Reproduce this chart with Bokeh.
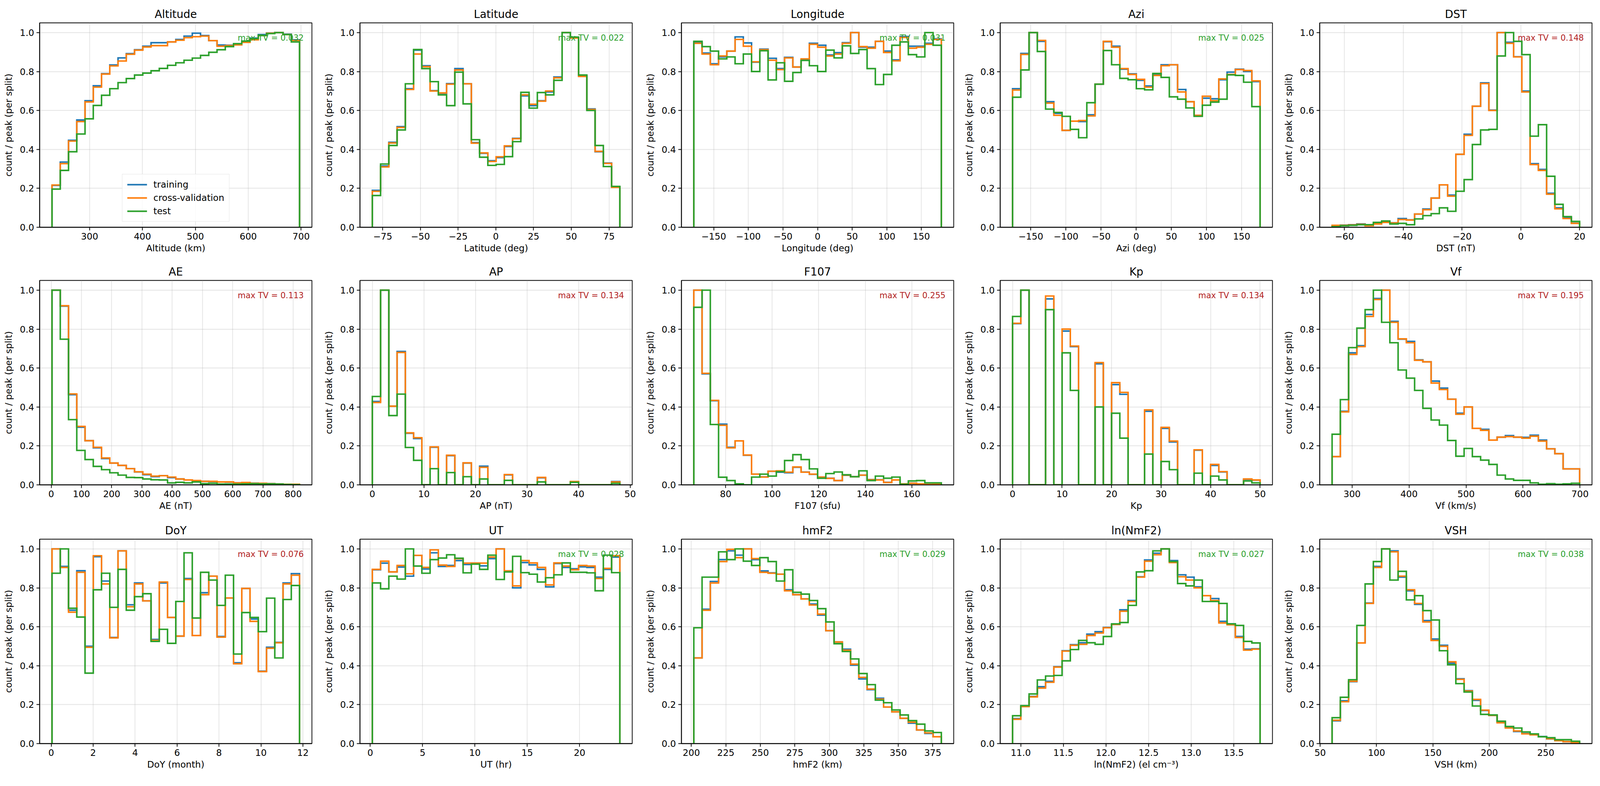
import numpy as np
from bokeh.plotting import figure
from bokeh.layouts import column, row
from bokeh.models import (Range1d, FixedTicker, CustomJSTickFormatter, Label,
                          Legend, LegendItem)
from bokeh.embed import file_html
from bokeh.resources import INLINE

FONT = "DejaVu Sans"
C_TRAIN, C_CV, C_TEST = "#1f77b4", "#ff7f0e", "#2ca02c"
TV_GOOD, TV_BAD = "#2ca02c", "#b22222"
SERIES = ["training", "cross-validation", "test"]

# ---------------- data (normalised counts per split, 30 bins each) ----------------
alt_range = (229.0, 697.0)
alt_train = [0.215,0.335,0.447,0.551,0.650,0.727,0.789,0.834,0.870,0.892,0.912,0.930,0.948,0.948,0.952,0.965,0.982,0.997,0.985,0.959,0.936,0.935,0.942,0.955,0.972,0.990,0.998,1.000,0.992,0.963]
alt_cv    = [0.217,0.327,0.443,0.543,0.644,0.720,0.787,0.829,0.854,0.889,0.910,0.926,0.933,0.933,0.952,0.961,0.974,0.979,0.982,0.959,0.930,0.933,0.937,0.950,0.963,0.985,0.997,1.000,0.990,0.960]
alt_test  = [0.196,0.292,0.388,0.479,0.557,0.626,0.678,0.712,0.743,0.764,0.782,0.792,0.804,0.816,0.832,0.845,0.858,0.869,0.883,0.899,0.912,0.928,0.943,0.956,0.969,0.985,0.995,1.000,0.990,0.952]

lat_range = (-81.9, 82.2)
lat_train = [0.190,0.315,0.437,0.517,0.712,0.910,0.830,0.702,0.688,0.738,0.815,0.737,0.435,0.380,0.342,0.358,0.415,0.457,0.675,0.625,0.650,0.695,0.772,1.000,0.975,0.778,0.608,0.388,0.330,0.207]
lat_cv    = [0.185,0.310,0.433,0.513,0.708,0.890,0.825,0.700,0.690,0.735,0.808,0.737,0.432,0.382,0.338,0.362,0.418,0.455,0.680,0.632,0.648,0.700,0.768,1.000,0.972,0.775,0.605,0.390,0.328,0.205]
lat_test  = [0.163,0.325,0.420,0.500,0.737,0.913,0.815,0.748,0.680,0.625,0.797,0.634,0.450,0.360,0.318,0.323,0.363,0.440,0.693,0.612,0.692,0.680,0.755,1.000,0.977,0.782,0.600,0.420,0.312,0.210]

lon_range = (-178.8, 178.8)
lon_train = [0.950,0.895,0.840,0.875,0.905,0.978,0.947,0.848,0.915,0.868,0.815,0.873,0.823,0.860,0.945,0.935,0.885,0.897,0.948,1.000,0.925,0.925,0.955,0.905,0.860,0.980,0.930,0.930,0.945,0.968]
lon_cv    = [0.945,0.890,0.835,0.880,0.905,0.965,0.930,0.850,0.912,0.858,0.810,0.870,0.823,0.865,0.940,0.925,0.880,0.890,0.945,1.000,0.928,0.920,0.955,0.898,0.855,0.975,0.920,0.925,0.940,0.965]
lon_test  = [0.955,0.928,0.905,0.865,0.875,0.840,0.890,0.800,0.907,0.757,0.845,0.750,0.795,0.857,0.830,0.800,0.910,0.870,0.932,0.893,0.913,0.815,0.733,0.785,0.935,0.952,0.887,0.875,1.000,0.935]

azi_range = (-176.0, 176.2)
azi_train = [0.712,0.893,1.000,0.955,0.645,0.585,0.498,0.545,0.543,0.578,0.735,0.953,0.930,0.812,0.788,0.755,0.726,0.785,0.835,0.835,0.708,0.645,0.575,0.663,0.660,0.758,0.797,0.812,0.800,0.748]
azi_cv    = [0.705,0.888,1.000,0.960,0.638,0.575,0.498,0.545,0.548,0.572,0.735,0.955,0.925,0.815,0.785,0.760,0.720,0.780,0.830,0.835,0.695,0.645,0.575,0.673,0.650,0.762,0.785,0.810,0.805,0.752]
azi_test  = [0.668,0.808,1.000,0.903,0.607,0.590,0.570,0.503,0.460,0.640,0.735,0.908,0.835,0.765,0.758,0.712,0.706,0.790,0.770,0.670,0.658,0.613,0.570,0.627,0.643,0.658,0.783,0.780,0.745,0.620]

dst_range = (-64.2, 20.0)
dst_train = [0.008,0.011,0.013,0.017,0.010,0.018,0.026,0.023,0.045,0.038,0.068,0.094,0.150,0.218,0.165,0.375,0.478,0.622,0.742,0.602,1.000,0.950,0.876,0.700,0.327,0.297,0.175,0.100,0.050,0.021]
dst_cv    = [0.010,0.010,0.012,0.015,0.008,0.017,0.025,0.022,0.040,0.037,0.068,0.090,0.150,0.218,0.160,0.375,0.472,0.622,0.738,0.600,1.000,0.945,0.875,0.695,0.322,0.292,0.170,0.095,0.045,0.020]
dst_test  = [0.003,0.008,0.010,0.013,0.013,0.025,0.032,0.017,0.020,0.013,0.043,0.060,0.070,0.100,0.082,0.185,0.245,0.425,0.500,0.503,0.880,1.000,0.955,0.887,0.468,0.527,0.262,0.118,0.055,0.030]

ae_range = (2.7, 821.0)
ae_train = [1.000,0.918,0.463,0.296,0.227,0.190,0.135,0.112,0.100,0.083,0.066,0.052,0.042,0.047,0.037,0.030,0.025,0.020,0.018,0.017,0.015,0.014,0.010,0.011,0.008,0.007,0.006,0.004,0.003,0.003]
ae_cv    = [1.000,0.920,0.467,0.300,0.227,0.193,0.138,0.112,0.100,0.083,0.067,0.055,0.045,0.047,0.040,0.030,0.025,0.022,0.018,0.018,0.015,0.015,0.010,0.012,0.008,0.008,0.006,0.004,0.003,0.003]
ae_test  = [1.000,0.748,0.335,0.177,0.130,0.095,0.078,0.062,0.050,0.038,0.037,0.030,0.026,0.025,0.010,0.013,0.010,0.015,0.006,0.008,0.004,0.004,0.004,0.005,0.006,0.005,0.005,0.004,0.002,0.001]

ap_range = (0.0, 48.0)
ap_train = [0.428,1.000,0.404,0.685,0.265,0.238,0,0.193,0,0.150,0,0.112,0,0.096,0,0,0.051,0,0,0,0.036,0,0,0,0.016,0,0,0,0,0.017]
ap_cv    = [0.423,1.000,0.404,0.680,0.267,0.242,0,0.195,0,0.152,0,0.113,0,0.090,0,0,0.053,0,0,0,0.038,0,0,0,0.017,0,0,0,0,0.015]
ap_test  = [0.454,1.000,0.356,0.466,0.192,0.126,0,0.083,0,0.063,0,0.042,0,0.030,0,0,0.023,0,0,0,0.015,0,0,0,0.013,0,0,0,0,0.008]

f107_range = (66.3, 172.7)
f107_train = [1.000,0.570,0.432,0.312,0.193,0.226,0.152,0.055,0.041,0.070,0.065,0.062,0.090,0.066,0.054,0.040,0.034,0.022,0.049,0.042,0.050,0.027,0.026,0.013,0.025,0.005,0.008,0.005,0.002,0.003]
f107_cv    = [1.000,0.573,0.434,0.306,0.190,0.226,0.153,0.055,0.040,0.070,0.072,0.065,0.092,0.065,0.055,0.040,0.033,0.022,0.050,0.042,0.050,0.026,0.025,0.012,0.025,0.005,0.008,0.005,0.002,0.003]
f107_test  = [0.912,1.000,0.310,0.039,0.022,0.005,0.000,0.040,0.055,0.045,0.068,0.125,0.155,0.130,0.082,0.034,0.058,0.066,0.052,0.042,0.072,0.022,0.045,0.034,0.040,0.003,0.020,0.022,0.010,0.010]

kp_range = (0.0, 50.0)
kp_train = [0.828,1.000,0,0,0.955,0,0.790,0.710,0,0,0.622,0,0.515,0.465,0,0,0.378,0,0.290,0.220,0,0,0.178,0,0.100,0.066,0,0,0.028,0.024]
kp_cv    = [0.830,1.000,0,0,0.970,0,0.800,0.713,0,0,0.628,0,0.525,0.475,0,0,0.385,0,0.295,0.225,0,0,0.180,0,0.105,0.068,0,0,0.030,0.025]
kp_test  = [0.865,1.000,0,0,0.900,0,0.678,0.485,0,0,0.400,0,0.368,0.240,0,0,0.158,0,0.120,0.078,0,0,0.060,0,0.045,0.025,0,0,0.020,0.010]

vf_range = (265.0, 699.3)
vf_train = [0.145,0.378,0.678,0.715,0.875,0.957,1.000,0.840,0.748,0.737,0.642,0.632,0.533,0.497,0.440,0.368,0.400,0.290,0.285,0.230,0.245,0.253,0.245,0.244,0.255,0.230,0.185,0.160,0.082,0.082]
vf_cv    = [0.145,0.375,0.670,0.710,0.865,0.952,1.000,0.835,0.750,0.730,0.640,0.632,0.523,0.490,0.440,0.363,0.400,0.290,0.280,0.230,0.245,0.248,0.245,0.240,0.250,0.225,0.185,0.160,0.082,0.082]
vf_test  = [0.260,0.438,0.705,0.805,0.900,1.000,0.835,0.730,0.590,0.548,0.485,0.393,0.333,0.307,0.228,0.147,0.187,0.145,0.127,0.105,0.050,0.030,0.023,0.023,0.010,0.003,0.006,0.003,0.005,0.008]

doy_range = (0.04, 11.84)
doy_train = [1.000,0.910,0.685,0.888,0.500,0.960,0.835,0.545,0.990,0.713,0.825,0.733,0.535,0.825,0.648,0.552,0.848,0.555,0.775,0.860,0.550,0.748,0.415,0.797,0.640,0.372,0.495,0.520,0.825,0.873]
doy_cv    = [1.000,0.905,0.675,0.880,0.495,0.965,0.820,0.543,0.990,0.703,0.820,0.733,0.530,0.830,0.648,0.552,0.843,0.555,0.765,0.860,0.547,0.748,0.410,0.797,0.628,0.370,0.490,0.518,0.820,0.865]
doy_test  = [0.875,1.000,0.695,0.650,0.362,0.790,0.875,0.700,0.895,0.685,0.755,0.770,0.525,0.587,0.515,0.730,0.980,0.645,0.880,0.840,0.710,0.865,0.460,0.673,0.648,0.575,0.747,0.440,0.740,0.812]

ut_range = (0.2, 23.85)
ut_train = [0.893,0.927,0.882,0.907,0.860,0.967,0.897,0.980,0.910,0.915,0.940,0.920,0.927,0.913,0.950,1.000,0.887,0.800,0.930,0.918,0.895,0.805,0.925,0.905,0.898,0.908,0.905,0.855,0.895,0.958]
ut_cv    = [0.895,0.937,0.882,0.915,0.872,0.967,0.905,0.995,0.917,0.910,0.950,0.927,0.927,0.927,0.958,1.000,0.887,0.810,0.940,0.928,0.905,0.815,0.928,0.912,0.893,0.915,0.912,0.848,0.900,0.965]
ut_test  = [0.825,0.795,0.860,0.845,1.000,0.912,0.875,0.945,0.953,0.970,0.952,0.877,0.922,0.895,0.968,0.843,0.882,0.962,0.878,0.870,0.830,0.852,0.867,0.928,0.880,0.880,0.877,0.785,0.968,0.878]

hmf2_range = (201.8, 381.2)
hmf2_train = [0.440,0.690,0.833,0.945,0.990,0.968,1.000,0.945,0.887,0.877,0.870,0.790,0.765,0.743,0.717,0.660,0.580,0.522,0.485,0.403,0.332,0.277,0.233,0.188,0.163,0.130,0.105,0.070,0.052,0.035]
hmf2_cv    = [0.440,0.685,0.825,0.935,0.998,0.955,1.000,0.950,0.880,0.875,0.870,0.785,0.765,0.743,0.712,0.665,0.580,0.522,0.480,0.408,0.340,0.280,0.228,0.188,0.163,0.130,0.110,0.070,0.055,0.035]
hmf2_test  = [0.595,0.855,0.855,0.985,0.945,1.000,0.937,0.915,0.955,0.935,0.835,0.893,0.777,0.768,0.735,0.693,0.625,0.513,0.473,0.435,0.360,0.303,0.223,0.210,0.173,0.147,0.118,0.100,0.065,0.057]

nmf2_range = (10.904, 13.808)
nmf2_train = [0.128,0.192,0.242,0.292,0.320,0.395,0.477,0.508,0.518,0.562,0.575,0.597,0.612,0.687,0.735,0.857,0.943,0.978,1.000,0.940,0.867,0.855,0.805,0.760,0.745,0.628,0.615,0.550,0.485,0.487]
nmf2_cv    = [0.125,0.190,0.240,0.285,0.315,0.393,0.475,0.505,0.510,0.555,0.568,0.595,0.612,0.680,0.730,0.855,0.937,0.970,1.000,0.930,0.857,0.840,0.800,0.760,0.735,0.620,0.610,0.545,0.480,0.485]
nmf2_test  = [0.143,0.195,0.255,0.327,0.347,0.350,0.425,0.483,0.530,0.518,0.510,0.550,0.615,0.622,0.710,0.882,0.888,0.990,1.000,0.935,0.822,0.810,0.840,0.730,0.730,0.720,0.615,0.607,0.525,0.517]

vsh_range = (60.6, 280.0)
vsh_train = [0.117,0.220,0.318,0.517,0.722,0.910,1.000,0.990,0.855,0.785,0.715,0.632,0.537,0.505,0.413,0.333,0.272,0.222,0.170,0.145,0.110,0.082,0.062,0.052,0.046,0.036,0.024,0.016,0.010,0.006]
vsh_cv    = [0.120,0.215,0.320,0.517,0.720,0.905,1.000,0.985,0.860,0.790,0.720,0.625,0.530,0.500,0.420,0.330,0.270,0.227,0.172,0.145,0.107,0.080,0.065,0.050,0.045,0.035,0.025,0.015,0.010,0.005]
vsh_test  = [0.133,0.238,0.328,0.607,0.820,0.935,1.000,0.840,0.885,0.738,0.760,0.683,0.635,0.477,0.405,0.308,0.265,0.193,0.150,0.147,0.115,0.088,0.080,0.060,0.050,0.035,0.030,0.020,0.020,0.012]

titles = ["Altitude", "Latitude", "Longitude", "Azi", "DST",
          "AE", "AP", "F107", "Kp", "Vf",
          "DoY", "UT", "hmF2", "ln(NmF2)", "VSH"]
xlabels = ["Altitude (km)", "Latitude (deg)", "Longitude (deg)", "Azi (deg)", "DST (nT)",
           "AE (nT)", "AP (nT)", "F107 (sfu)", "Kp", "Vf (km/s)",
           "DoY (month)", "UT (hr)", "hmF2 (km)", "ln(NmF2) (el cm\u207b\u00b3)", "VSH (km)"]
max_tv = [0.032, 0.022, 0.031, 0.025, 0.148,
          0.113, 0.134, 0.255, 0.134, 0.195,
          0.076, 0.028, 0.029, 0.027, 0.038]
tv_ok = [True, True, True, True, False,
         False, False, False, False, False,
         False, True, True, True, True]
x_ticks = [[300, 400, 500, 600, 700],
           [-75, -50, -25, 0, 25, 50, 75],
           [-150, -100, -50, 0, 50, 100, 150],
           [-150, -100, -50, 0, 50, 100, 150],
           [-60, -40, -20, 0, 20],
           [0, 100, 200, 300, 400, 500, 600, 700, 800],
           [0, 10, 20, 30, 40, 50],
           [80, 100, 120, 140, 160],
           [0, 10, 20, 30, 40, 50],
           [300, 400, 500, 600, 700],
           [0, 2, 4, 6, 8, 10, 12],
           [0, 5, 10, 15, 20],
           [200, 225, 250, 275, 300, 325, 350, 375],
           [11.0, 11.5, 12.0, 12.5, 13.0, 13.5],
           [50, 100, 150, 200, 250]]
x_tick_decimals = [0, 0, 0, 0, 0, 0, 0, 0, 0, 0, 0, 0, 0, 1, 0]
y_ticks = [0.0, 0.2, 0.4, 0.6, 0.8, 1.0]

bin_ranges = [alt_range, lat_range, lon_range, azi_range, dst_range,
              ae_range, ap_range, f107_range, kp_range, vf_range,
              doy_range, ut_range, hmf2_range, nmf2_range, vsh_range]
train_vals = [alt_train, lat_train, lon_train, azi_train, dst_train,
              ae_train, ap_train, f107_train, kp_train, vf_train,
              doy_train, ut_train, hmf2_train, nmf2_train, vsh_train]
cv_vals = [alt_cv, lat_cv, lon_cv, azi_cv, dst_cv,
           ae_cv, ap_cv, f107_cv, kp_cv, vf_cv,
           doy_cv, ut_cv, hmf2_cv, nmf2_cv, vsh_cv]
test_vals = [alt_test, lat_test, lon_test, azi_test, dst_test,
             ae_test, ap_test, f107_test, kp_test, vf_test,
             doy_test, ut_test, hmf2_test, nmf2_test, vsh_test]

# ---------------- layout (CSS px, fitted to the visible page area) ----------------
COL_W = [813, 821, 820, 821, 805]
COL_LEFT = [101, 108, 110, 106, 103]
FRAME_W = 697
ROW_H = [659, 659, 664]
ROW_TOP = [58, 58, 61]
FRAME_H = 523

FS_TITLE = "27.7px"
FS_TICK = "23.1px"
FS_LABEL = "23.1px"
FS_TV = "20.8px"
LW = 3.9
SPINE_W = 1.9


def step_outline(lo, hi, vals):
    """matplotlib histtype='step' outline from bin edges and bin heights."""
    vals = np.asarray(vals, dtype=float)
    edges = np.linspace(lo, hi, len(vals) + 1)
    xs = np.repeat(edges, 2)
    ys = np.concatenate([[0.0], np.repeat(vals, 2), [0.0]])
    return xs, ys


def make_panel(i):
    r, c = divmod(i, 5)
    lo, hi = bin_ranges[i]
    span = hi - lo
    xr = Range1d(lo - 0.05 * span, hi + 0.05 * span)
    yr = Range1d(0, 1.05)
    w, h = COL_W[c], ROW_H[r]
    p = figure(width=w, height=h, x_range=xr, y_range=yr,
               output_backend="svg", toolbar_location=None, tools="",
               min_border_left=COL_LEFT[c],
               min_border_right=w - COL_LEFT[c] - FRAME_W,
               min_border_top=ROW_TOP[r],
               min_border_bottom=h - ROW_TOP[r] - FRAME_H)
    p.background_fill_color = "white"
    p.border_fill_color = "white"
    p.outline_line_color = "black"
    p.outline_line_width = SPINE_W

    p.title.text = titles[i]
    p.title.text_font = FONT
    p.title.text_font_size = FS_TITLE
    p.title.text_font_style = "normal"
    p.title.text_color = "black"
    p.title.align = "center"
    p.title.standoff = 11

    for ax in (p.xaxis[0], p.yaxis[0]):
        ax.axis_line_color = "black"
        ax.axis_line_width = SPINE_W
        ax.major_tick_line_color = "black"
        ax.major_tick_line_width = SPINE_W
        ax.major_tick_out = 8
        ax.major_tick_in = 0
        ax.minor_tick_line_color = None
        ax.major_label_text_font = FONT
        ax.major_label_text_font_size = FS_TICK
        ax.major_label_text_color = "black"
        ax.major_label_standoff = 6
        ax.axis_label_text_font = FONT
        ax.axis_label_text_font_size = FS_LABEL
        ax.axis_label_text_font_style = "normal"
        ax.axis_label_text_color = "black"

    p.xaxis.axis_label = xlabels[i]
    p.xaxis.axis_label_standoff = 6
    p.xaxis.ticker = FixedTicker(ticks=x_ticks[i])
    p.xaxis.formatter = CustomJSTickFormatter(
        args=dict(dec=x_tick_decimals[i]),
        code="const s = Math.abs(tick).toFixed(dec);"
             " return (tick < -1e-9 ? '\\u2212' : '') + s;")

    p.yaxis.axis_label = "count / peak (per split)"
    p.yaxis.axis_label_standoff = 13
    p.yaxis.ticker = FixedTicker(ticks=y_ticks)
    p.yaxis.formatter = CustomJSTickFormatter(code="return tick.toFixed(1);")

    p.xgrid.ticker = p.xaxis[0].ticker
    p.ygrid.ticker = p.yaxis[0].ticker
    for g in (p.xgrid[0], p.ygrid[0]):
        g.grid_line_color = "#b0b0b0"
        g.grid_line_alpha = 0.35
        g.grid_line_width = 1.8

    renderers = []
    for vals, col in ((train_vals[i], C_TRAIN), (cv_vals[i], C_CV), (test_vals[i], C_TEST)):
        xs, ys = step_outline(lo, hi, vals)
        rr = p.line(xs, ys, line_color=col, line_width=LW, line_join="miter")
        renderers.append(rr)

    p.add_layout(Label(x=xr.end - 0.03 * (xr.end - xr.start), y=0.95 * 1.05,
                       text="max TV = %.3f" % max_tv[i],
                       text_align="right", text_baseline="top",
                       text_font=FONT, text_font_size=FS_TV,
                       text_color=TV_GOOD if tv_ok[i] else TV_BAD))

    if i == 0:
        legend = Legend(items=[LegendItem(label=SERIES[k], renderers=[renderers[k]])
                               for k in range(3)],
                        location="bottom_center")
        legend.label_text_font = FONT
        legend.label_text_font_size = FS_LABEL
        legend.label_text_color = "black"
        legend.glyph_width = 51
        legend.glyph_height = 28
        legend.label_height = 28
        legend.label_standoff = 17
        legend.spacing = 6
        legend.padding = 12
        legend.margin = 14
        legend.border_line_color = "#cccccc"
        legend.border_line_width = 1.8
        legend.background_fill_alpha = 0.8
        p.add_layout(legend)
    return p


figs = [make_panel(i) for i in range(15)]
layout = column(row(*figs[0:5]), row(*figs[5:10]), row(*figs[10:15]))

with open("out.html", "w", encoding="utf-8") as f:
    f.write(file_html(layout, INLINE))
